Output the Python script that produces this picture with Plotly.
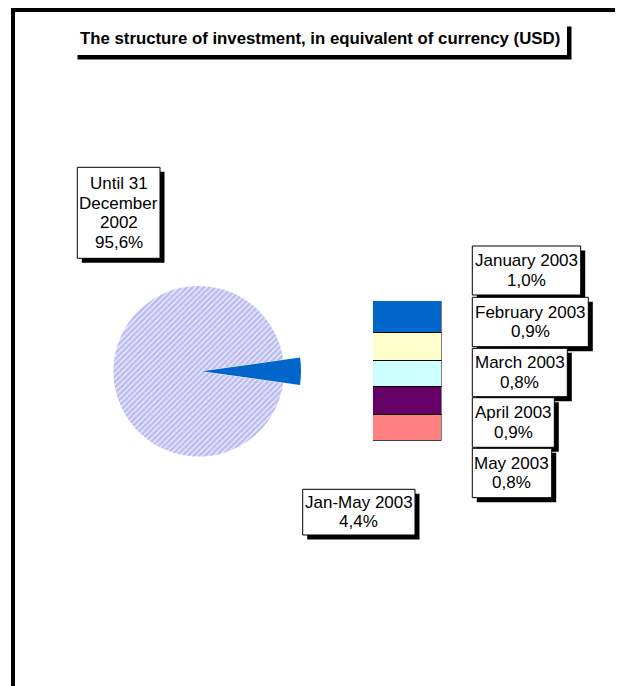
import plotly.graph_objects as go

# ---------------- data ----------------
title_text = "The structure of investment, in equivalent of currency (USD)"
pie_labels = ["Until 31<br>December<br>2002", "Jan-May 2003"]
pie_values = [95.6, 4.4]
bar_labels = ["January 2003", "February 2003", "March 2003", "April 2003", "May 2003"]
bar_values = [1.0, 0.9, 0.8, 0.9, 0.8]
bar_colors = ["#0066CC", "#FFFFCC", "#CCFFFF", "#660066", "#FF8080"]
other_color = "#0066CC"

# ---------------- helpers ----------------
# page body has an 8px margin; the figure is sized to fit the window
OFF = 8
W, H = 623 - OFF, 686 - OFF
FONT = "Liberation Sans, Arial, sans-serif"


def px(x):
    return (x - OFF) / W


def py(y):
    return 1 - (y - OFF) / H


def pct(v):
    return f"{v:.1f}%".replace(".", ",")


fig = go.Figure()

# ---------------- pie ----------------
cx, cy, r_main = 198.7, 371.3, 85.3
r_other, pull_px = 99.3, 3.0
pull = pull_px / r_other
R_other = r_other + pull_px

vals = [pie_values[1], pie_values[0]]
labs = [pie_labels[1].replace("<br>", " "), pie_labels[0].replace("<br>", " ")]
rot = 90 - 360 * pie_values[1] / sum(pie_values) / 2

fig.add_trace(go.Pie(
    values=vals, labels=labs, sort=False, direction="clockwise", rotation=rot,
    domain=dict(x=[px(cx - r_main), px(cx + r_main)], y=[py(cy + r_main), py(cy - r_main)]),
    marker=dict(colors=["rgba(0,0,0,0)", "white"], line=dict(width=0),
                pattern=dict(shape=["", "/"], fgcolor=["rgba(0,0,0,0)", "#7a7ae8"],
                             bgcolor=["rgba(0,0,0,0)", "white"], size=4, solidity=0.75,
                             fillmode="overlay")),
    textinfo="none", showlegend=False, hoverinfo="label+value",
))
fig.add_trace(go.Pie(
    values=vals, labels=labs, sort=False, direction="clockwise", rotation=rot,
    pull=[pull, 0],
    domain=dict(x=[px(cx - R_other), px(cx + R_other)], y=[py(cy + R_other), py(cy - R_other)]),
    marker=dict(colors=[other_color, "rgba(0,0,0,0)"], line=dict(width=0)),
    textinfo="none", showlegend=False, hoverinfo="label+value",
))

# ---------------- stacked bar ----------------
for lab, v, c in zip(bar_labels, bar_values, bar_colors):
    fig.add_trace(go.Bar(
        x=["Jan-May 2003"], y=[v], name=lab, width=1,
        marker=dict(color=c, line=dict(color="black", width=1.5)),
        showlegend=False,
    ))

fig.update_layout(
    width=W, height=H, margin=dict(l=0, r=0, t=0, b=0),
    paper_bgcolor="white", plot_bgcolor="rgba(0,0,0,0)",
    barmode="stack", bargap=0,
    xaxis=dict(domain=[px(373), px(441.5)], range=[-0.5, 0.5], visible=False, fixedrange=True),
    yaxis=dict(domain=[py(440.7), py(301)], range=[sum(bar_values), 0], visible=False, fixedrange=True),
    font=dict(family=FONT, color="black"),
)

shapes = []
annotations = []

# frame
shapes.append(dict(type="rect", xref="paper", yref="paper", x0=px(13), y0=py(10), x1=px(623 + 40),
                   y1=py(686 + 40), line=dict(color="black", width=4), fillcolor="rgba(0,0,0,0)",
                   layer="below"))

SH = 4.5


def boxed(l, t, r, b, lines, size=17, spacing=19.5, border=True, bold=False):
    shapes.append(dict(type="rect", xref="paper", yref="paper", x0=px(l + SH), y0=py(b + SH),
                       x1=px(r + SH), y1=py(t + SH), line=dict(width=0), fillcolor="black"))
    shapes.append(dict(type="rect", xref="paper", yref="paper", x0=px(l), y0=py(b), x1=px(r),
                       y1=py(t), line=dict(color="black", width=1 if border else 0),
                       fillcolor="white"))
    mid_y = (t + b) / 2
    mid_x = (l + r) / 2
    n = len(lines)
    for i, ln in enumerate(lines):
        yc = mid_y + (i - (n - 1) / 2) * spacing
        annotations.append(dict(xref="paper", yref="paper", x=px(mid_x), y=py(yc),
                                xanchor="center", yanchor="middle", showarrow=False,
                                text=f"<b>{ln}</b>" if bold else ln,
                                font=dict(family=FONT, size=size, color="black")))


# title
boxed(73, 22, 567, 55, [title_text], size=16.8, border=False, bold=True)

# pie labels
boxed(77.3, 167.3, 160, 258.3, pie_labels[0].split("<br>") + [pct(pie_values[0])])
boxed(302.7, 489.3, 415, 535, [pie_labels[1], pct(pie_values[1])])

# bar labels
month_boxes = [
    (472.3, 246, 580.7, 295),
    (472.3, 297.3, 588.3, 346.7),
    (472.3, 348.3, 567.3, 396.7),
    (472.3, 397.7, 554.3, 447.3),
    (472.3, 448.3, 551.7, 497.7),
]
for (l, t, r, b), lab, v in zip(month_boxes, bar_labels, bar_values):
    boxed(l, t, r, b, [lab, pct(v)])

fig.update_layout(shapes=shapes, annotations=annotations)

fig.write_html("out.html")
